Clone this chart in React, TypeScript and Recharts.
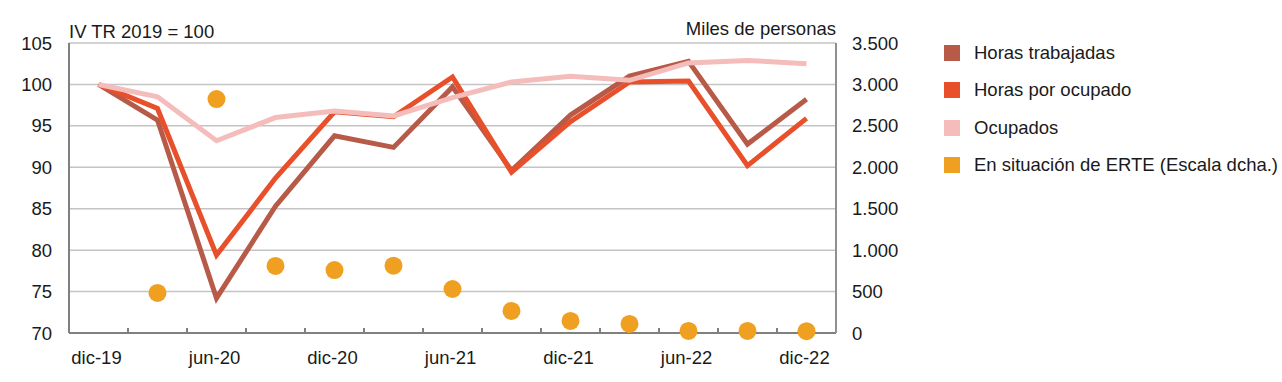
import React from 'react';
import { ComposedChart, Line, XAxis, YAxis, CartesianGrid, Legend } from 'recharts';

const quarters = ['dic-19', 'mar-20', 'jun-20', 'sep-20', 'dic-20', 'mar-21', 'jun-21', 'sep-21', 'dic-21', 'mar-22', 'jun-22', 'sep-22', 'dic-22'];
const horasTrabajadas = [100, 95.7, 74.2, 85.3, 93.8, 92.4, 99.7, 89.6, 96.3, 101.0, 102.8, 92.8, 98.2];
const horasPorOcupado = [100, 97.1, 79.4, 88.7, 96.7, 96.1, 100.9, 89.4, 95.5, 100.3, 100.4, 90.2, 95.9];
const ocupados = [100, 98.5, 93.2, 96.0, 96.8, 96.2, 98.4, 100.3, 101.0, 100.5, 102.6, 102.9, 102.5];
const erte = [null, 483, 2824, 809, 760, 813, 531, 266, 145, 109, 25, 25, 22];

const leftTicks = [70, 75, 80, 85, 90, 95, 100, 105];
const rightTicks = [0, 500, 1000, 1500, 2000, 2500, 3000, 3500];

const series = [
    { key: 'trabajadas', name: 'Horas trabajadas', color: '#b85a48' },
    { key: 'porOcupado', name: 'Horas por ocupado', color: '#e8502b' },
    { key: 'ocupados', name: 'Ocupados', color: '#f5bcbc' },
    { key: 'erte', name: 'En situación de ERTE (Escala dcha.)', color: '#f0a020' },
];

const data = quarters.map((q, i) => ({
    q,
    trabajadas: horasTrabajadas[i],
    porOcupado: horasPorOcupado[i],
    ocupados: ocupados[i],
    erte: erte[i],
}));

const W = 1282;
const H = 382;
const PLOT_LEFT = 69;
const PLOT_RIGHT = 836;
const BAND = (PLOT_RIGHT - PLOT_LEFT) / quarters.length;
const FONT = '"Liberation Sans", Arial, Helvetica, sans-serif';
const FS = 18.5;
const TEXT = '#1a1a1a';

const fmtMiles = (v: number) => String(v).replace(/\B(?=(\d{3})+(?!\d))/g, '.');

const XTick = (props: any) => {
    const { x, y, payload, index } = props;
    return (
        <g>
            {index < quarters.length - 1 && (
                <line x1={x + BAND / 2} x2={x + BAND / 2} y1={y} y2={y - 5} stroke="#808080" strokeWidth={2} />
            )}
            {index % 2 === 0 && (
                <text x={x - 2} y={y + 31} textAnchor="middle" fill={TEXT} fontSize={FS} fontFamily={FONT}>
                    {payload.value}
                </text>
            )}
        </g>
    );
};

const ErteDot = (props: any) => {
    const { cx, cy, index } = props;
    if (cx == null || cy == null || erte[index] == null) return <g key={`d-${index}`} />;
    return <circle key={`d-${index}`} cx={cx} cy={cy} r={9} fill="#f0a020" />;
};

const LegendBox = () => (
    <div style={{ fontFamily: FONT, fontSize: FS, color: TEXT }}>
        {series.map((s) => (
            <div key={s.key} style={{ display: 'flex', alignItems: 'center', height: 37.5 }}>
                <span style={{ width: 16, height: 16, background: s.color, display: 'inline-block', marginRight: 14 }} />
                <span>{s.name}</span>
            </div>
        ))}
    </div>
);

export default function App() {
    return (
        <div style={{ position: 'absolute', left: 0, top: 0, width: W, height: H, background: '#fff' }}>
            <ComposedChart
                width={W}
                height={H}
                data={data}
                margin={{ top: 43, right: 386, left: 9, bottom: 19 }}
                style={{ fontFamily: FONT }}
            >
                <CartesianGrid yAxisId="left" horizontal vertical={false} stroke="#c4c4c4" strokeWidth={1.5} />
                <XAxis
                    dataKey="q"
                    scale="band"
                    interval={0}
                    height={30}
                    tick={<XTick />}
                    tickLine={false}
                    tickSize={0}
                    tickMargin={0}
                    axisLine={{ stroke: '#808080', strokeWidth: 2 }}
                />
                <YAxis
                    yAxisId="left"
                    width={60}
                    domain={[70, 105]}
                    ticks={leftTicks}
                    interval={0}
                    tickLine={false}
                    tickMargin={11}
                    axisLine={{ stroke: '#808080', strokeWidth: 2 }}
                    tick={{ fill: TEXT, fontSize: FS, fontFamily: FONT }}
                />
                <YAxis
                    yAxisId="right"
                    orientation="right"
                    width={60}
                    domain={[0, 3500]}
                    ticks={rightTicks}
                    interval={0}
                    tickLine={false}
                    tickMargin={10}
                    tickFormatter={fmtMiles}
                    axisLine={{ stroke: '#909090', strokeWidth: 2 }}
                    tick={{ fill: TEXT, fontSize: FS, fontFamily: FONT }}
                />
                <Legend
                    layout="vertical"
                    align="center"
                    verticalAlign="middle"
                    content={<LegendBox />}
                    wrapperStyle={{ left: 944, top: 34, width: 336 }}
                />
                <Line yAxisId="left" dataKey="trabajadas" name="Horas trabajadas" stroke="#b85a48" strokeWidth={5} dot={false} activeDot={false} isAnimationActive={false} />
                <Line yAxisId="left" dataKey="porOcupado" name="Horas por ocupado" stroke="#e8502b" strokeWidth={5} dot={false} activeDot={false} isAnimationActive={false} />
                <Line yAxisId="left" dataKey="ocupados" name="Ocupados" stroke="#f5bcbc" strokeWidth={5} dot={false} activeDot={false} isAnimationActive={false} />
                <Line yAxisId="right" dataKey="erte" name="En situación de ERTE (Escala dcha.)" stroke="none" dot={<ErteDot />} activeDot={false} isAnimationActive={false} />
                <text x={PLOT_LEFT} y={38} fill={TEXT} fontSize={FS} fontFamily={FONT}>IV TR 2019 = 100</text>
                <text x={PLOT_RIGHT} y={35} textAnchor="end" fill={TEXT} fontSize={FS} fontFamily={FONT}>Miles de personas</text>
            </ComposedChart>
        </div>
    );
}
